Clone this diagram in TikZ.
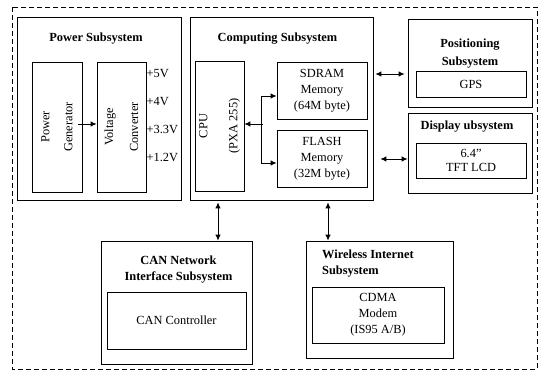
\documentclass[tikz,border=0pt]{standalone}
\usepackage{fontspec}
\setmainfont{Liberation Serif}
\usetikzlibrary{arrows.meta}

\tikzset{
  box/.style={draw, line width=0.8pt, inner sep=0pt, align=center, font=\fontsize{12.4}{16}\selectfont},
  ttl/.style={inner sep=0pt, align=center, font=\bfseries\fontsize{12.4}{16}\selectfont},
  volt/.style={anchor=west, inner sep=0.5pt, font=\fontsize{12.4}{16}\selectfont},
  link/.style={line width=0.9pt, -{Latex[length=6pt,width=5.5pt]}},
  dlink/.style={line width=0.9pt, {Latex[length=6pt,width=5.5pt]}-{Latex[length=6pt,width=5.5pt]}},
}

\begin{document}
\begin{tikzpicture}[x=1pt,y=-1pt]
		\useasboundingbox (0,0) rectangle (542,372);
		\draw[line width=1pt, dash pattern=on 5pt off 3pt] (12,7) rectangle (537,369);

		% power subsystem
		\node[box, minimum width=164pt, minimum height=183pt] (power) at (99,108.5) {};
		\node[ttl] (powerttl) at (96,39) {Power Subsystem};
		\node[box, minimum width=130pt, minimum height=50pt, rotate=90] (gen) at (57,127) {Power\\[7pt]Generator};
		\node[box, minimum width=130pt, minimum height=49pt, rotate=90] (conv) at (121.5,127) {Voltage\\[9pt]Converter};
		\coordinate (genout) at (78,124);
		\draw[link] (genout) -- (conv.north |- genout);
		\node[volt] (v5) at (146,74) {+5V};
		\node[volt] (v4) at (146,102) {+4V};
		\node[volt] (v33) at (146,129) {+3.3V};
		\node[volt] (v12) at (146,157) {+1.2V};

		% computing subsystem
		\node[box, minimum width=183pt, minimum height=183pt] (comp) at (281.5,108.5) {};
		\node[ttl] (compttl) at (277.5,39) {Computing Subsystem};
		\node[box, minimum width=130pt, minimum height=49pt, rotate=90] (cpu) at (219.5,126) {CPU\\[14pt](PXA 255)};
		\node[box, minimum width=90pt, minimum height=57pt] (sdram) at (322,90.5) {SDRAM\\Memory\\(64M byte)};
		\node[box, minimum width=90pt, minimum height=57pt] (flash) at (322,158.5) {FLASH\\Memory\\(32M byte)};
		\coordinate (bus) at (263,124);
		\draw[link] (bus) -- (cpu.south |- bus);
		\draw[link] ([xshift=-2pt]bus) |- ([yshift=-5.5pt]sdram.west);
		\draw[link] ([xshift=-2pt]bus) |- ([yshift=-4.5pt]flash.west);

		% positioning and display
		\node[box, minimum width=124pt, minimum height=88pt] (pos) at (470,63) {};
		\node[ttl] (posttl) at (470,54) {Positioning\\[2pt]Subsystem};
		\node[box, minimum width=110pt, minimum height=26pt] (gps) at (471,84) {GPS};
		\node[box, minimum width=124pt, minimum height=80pt] (disp) at (470,153) {};
		\node[ttl] (dispttl) at (467,127) {Display ubsystem};
		\node[box, minimum width=110pt, minimum height=35pt, font=\fontsize{12.4}{14}\selectfont] (tft) at (471,160.5) {6.4”\\TFT LCD};

		% can network
		\node[box, minimum width=151pt, minimum height=123pt] (can) at (176.5,302.5) {};
		\node[ttl] (canttl) at (178.5,270) {CAN Network\\Interface Subsystem};
		\node[box, minimum width=139pt, minimum height=57pt] (canctl) at (176.5,320.5) {CAN Controller};

		% wireless internet
		\node[box, minimum width=147pt, minimum height=117pt] (wless) at (379.5,299.5) {};
		\node[ttl, anchor=west, align=left] (wlessttl) at (322,263.5) {Wireless Internet\\Subsystem};
		\node[box, minimum width=132pt, minimum height=56pt] (cdma) at (378,315) {CDMA\\Modem\\(IS95 A/B)};

		% links between subsystems
		\draw[dlink, shorten <=2pt, shorten >=3pt] (comp.east |- 0,74) -- (pos.west |- 0,74);
		\draw[dlink, shorten <=7pt] (comp.east |- 0,159) -- (disp.west |- 0,159);
		\draw[dlink, shorten <=2pt] (comp.south -| 218,0) -- (can.north -| 218,0);
		\draw[dlink, shorten <=2pt] (comp.south -| 328,0) -- (wless.north -| 328,0);
\end{tikzpicture}
\end{document}
